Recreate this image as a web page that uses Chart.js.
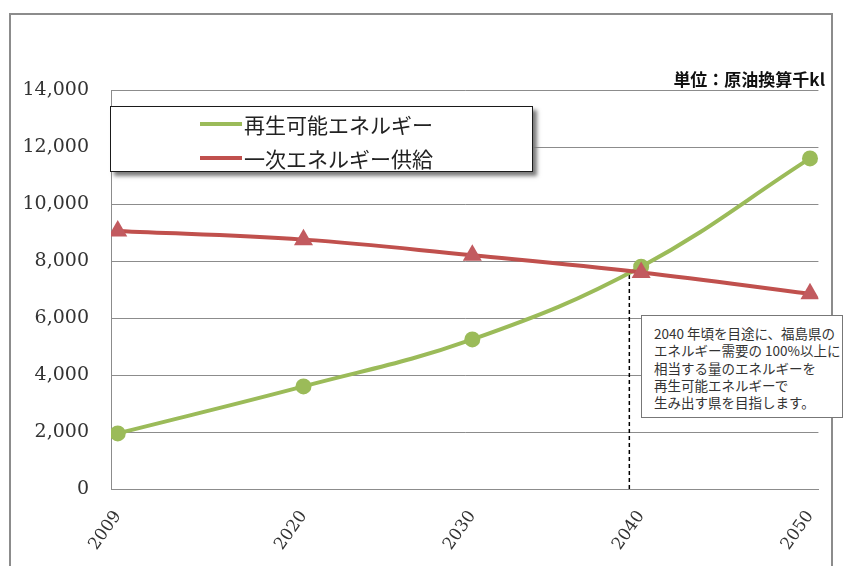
<!DOCTYPE html>
<html lang="ja">
<head>
<meta charset="utf-8">
<script src="https://cdn.jsdelivr.net/npm/chart.js@4.4.1/dist/chart.umd.min.js"></script>
<style>
    html, body { margin: 0; padding: 0; background: #fff; }
    .wrap { position: relative; width: 845px; height: 566px; overflow: hidden; }
    .frame { position: absolute; left: 9px; top: 13px; width: 820px; height: 600px; border: 2px solid #8c8c8c; }
    #chart { position: absolute; left: 0; top: 0; }
    .unit { position: absolute; right: 20px; top: 66px; font: bold 17px "Noto Sans CJK JP", sans-serif; color: #111; }
    .legend-box { position: absolute; left: 110px; top: 106px; width: 421px; height: 64px; border: 1.5px solid #1a1a1a; background: #fff; box-shadow: 4px 4px 4px #7a7a7a; }
    .legend-item { position: absolute; left: 89px; height: 30px; display: flex; align-items: center; font: 21px "Noto Sans CJK JP", sans-serif; color: #222; }
    .legend-swatch { width: 42px; height: 4px; margin-right: 2px; }
    .note { position: absolute; left: 641px; top: 315px; width: 188px; height: 92px; padding: 9px 0 0 12px; border: 1px solid #777; background: #fff; font: 13.5px/17.3px "Noto Sans CJK JP", sans-serif; color: #333; white-space: nowrap; }
</style>
</head>
<body>
<div class="wrap">
    <div class="frame"></div>
    <canvas id="chart" width="845" height="566"></canvas>
    <div class="unit">単位：原油換算千kl</div>
    <div class="legend-box" id="legend"></div>
    <div class="note">2040 年頃を目途に、福島県の<br>エネルギー需要の 100%以上に<br>相当する量のエネルギーを<br>再生可能エネルギーで<br>生み出す県を目指します。</div>
</div>
<script>
// --- data ---
const years = [2009, 2020, 2030, 2040, 2050];
const renewable = [1950, 3600, 5250, 7800, 11600];      // 再生可能エネルギー
const primarySupply = [9050, 8750, 8200, 7600, 6850];   // 一次エネルギー供給
const seriesNames = ['再生可能エネルギー', '一次エネルギー供給'];
const xTickLabels = [2009, 2020, 2030, 2040, 2050];
const yTickLabels = [0, 2000, 4000, 6000, 8000, 10000, 12000, 14000];
// crossing marker (dashed drop line)
const crossYear = [2039.3, 2039.3];
const crossValue = [0, 7650];

const GREEN = '#9bbb59';
const RED = '#c0504d';

const toPoints = (xs, ys) => xs.map((x, i) => ({ x: x, y: ys[i] }));

const chart = new Chart(document.getElementById('chart'), {
    type: 'line',
    data: {
        datasets: [
            {
                label: seriesNames[0],
                data: toPoints(years, renewable),
                borderColor: GREEN, backgroundColor: GREEN,
                borderWidth: 4, tension: 0.4,
                pointStyle: 'circle', pointRadius: 8, pointBorderWidth: 0,
                order: 1
            },
            {
                label: seriesNames[1],
                data: toPoints(years, primarySupply),
                borderColor: RED, backgroundColor: '#c25a5f',
                borderWidth: 4, tension: 0.4,
                pointStyle: 'triangle', pointRadius: 11, pointBorderWidth: 0,
                order: 0
            },
            {
                label: '',
                data: toPoints(crossYear, crossValue),
                borderColor: '#000', borderWidth: 1.5, borderDash: [4, 3],
                pointRadius: 0, tension: 0,
                order: 2
            }
        ]
    },
    options: {
        responsive: false,
        animation: false,
        layout: { padding: { top: 90, right: 25, left: 0, bottom: 0 } },
        plugins: { legend: { display: false }, tooltip: { enabled: false } },
        scales: {
            x: {
                type: 'linear',
                min: 2008.6, max: 2050.5,
                afterBuildTicks: axis => { axis.ticks = xTickLabels.map(v => ({ value: v })); },
                afterFit: axis => { axis.height = 77; },
                grid: { display: false, drawTicks: false },
                border: { display: true, color: '#8c8c8c', width: 1 },
                ticks: {
                    minRotation: 55, maxRotation: 55, padding: 18,
                    color: '#333',
                    font: { family: '"DejaVu Serif", serif', size: 17 },
                    callback: v => String(v)
                }
            },
            y: {
                min: 0, max: 14000,
                afterBuildTicks: axis => { axis.ticks = yTickLabels.map(v => ({ value: v })); },
                afterFit: axis => { axis.width = 111; },
                grid: { color: '#8c8c8c', lineWidth: 1, drawTicks: false },
                border: { display: true, color: '#8c8c8c', width: 1 },
                ticks: {
                    padding: 22,
                    color: '#333',
                    font: { family: '"DejaVu Serif", serif', size: 19 },
                    callback: v => v.toLocaleString('en-US')
                }
            }
        }
    }
});

// legend box built from the named series
const legend = document.getElementById('legend');
chart.data.datasets.slice(0, 2).forEach((ds, i) => {
    const item = document.createElement('div');
    item.className = 'legend-item';
    item.style.top = (2 + i * 34) + 'px';
    item.innerHTML = `<span class="legend-swatch" style="background:${ds.borderColor}"></span>${ds.label}`;
    legend.appendChild(item);
});
</script>
</body>
</html>
